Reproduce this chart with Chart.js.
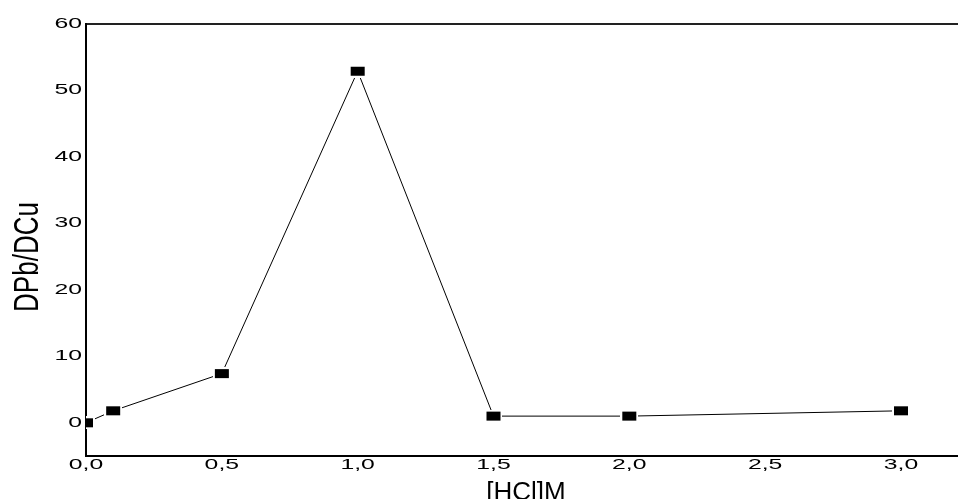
<!DOCTYPE html>
<html>
<head>
<meta charset="utf-8">
<script src="https://cdn.jsdelivr.net/npm/chart.js@4/dist/chart.umd.min.js"></script>
<style>
  html, body { margin: 0; padding: 0; background: #fff; overflow: hidden; }
  canvas { display: block; }
</style>
</head>
<body>
<canvas id="c" width="958" height="499"></canvas>
<script>
// HCl concentration (M) and the Pb/Cu distribution ratio measured at each one
const hclConc = [0, 0.1, 0.5, 1.0, 1.5, 2.0, 3.0];
const ratioPbCu = [0, 1.8, 7.4, 52.9, 1.0, 1.0, 1.8];

// Axis ticks and labels
const xTickValues = [0, 0.5, 1.0, 1.5, 2.0, 2.5, 3.0];
const xTickLabels = ['0,0', '0,5', '1,0', '1,5', '2,0', '2,5', '3,0'];
const yTickValues = [0, 10, 20, 30, 40, 50, 60];
const yTickLabels = ['0', '10', '20', '30', '40', '50', '60'];
const xTitle = '[HCl]M';
const yTitle = 'DPb/DCu';

// Filled rectangular marker with a thin white halo so the line stops short of it
function makeMarker() {
  const c = document.createElement('canvas');
  c.width = 18; c.height = 13;
  const g = c.getContext('2d');
  g.fillStyle = '#fff';
  g.fillRect(0, 0, 18, 13);
  g.fillStyle = '#000';
  g.fillRect(2, 2, 14, 9);
  return c;
}

// Text drawn with a horizontal stretch factor (wide tick lettering)
function drawStretched(ctx, text, x, y, sx, align, baseline) {
  ctx.save();
  ctx.translate(x, y);
  ctx.scale(sx, 1);
  ctx.textAlign = align;
  ctx.textBaseline = baseline;
  ctx.fillText(text, 0, 0);
  ctx.restore();
}

const labelPlugin = {
  id: 'axisLabels',
  afterDraw(chart) {
    const ctx = chart.ctx;
    const xs = chart.scales.x, ys = chart.scales.y;
    ctx.save();
    ctx.fillStyle = '#000';
    ctx.font = '15px "Liberation Sans", Arial, sans-serif';
    xTickValues.forEach((v, i) => {
      drawStretched(ctx, xTickLabels[i], xs.getPixelForValue(v), 469, 1.65, 'center', 'alphabetic');
    });
    yTickValues.forEach((v, i) => {
      drawStretched(ctx, yTickLabels[i], 82, ys.getPixelForValue(v) + 4, 1.65, 'right', 'alphabetic');
    });

    // x axis title
    ctx.font = '26px "Liberation Sans", Arial, sans-serif';
    ctx.textAlign = 'center';
    ctx.textBaseline = 'alphabetic';
    ctx.fillText(xTitle, 526, 500);

    // y axis title, rotated and widened across the stroke direction
    ctx.save();
    ctx.translate(38, 257);
    ctx.rotate(-Math.PI / 2);
    ctx.scale(1, 1.33);
    ctx.font = '26px "Liberation Sans", Arial, sans-serif';
    ctx.textAlign = 'center';
    ctx.textBaseline = 'alphabetic';
    ctx.fillText(yTitle, 0, 0);
    ctx.restore();
    ctx.restore();
  }
};

const points = hclConc.map((x, i) => ({ x: x, y: ratioPbCu[i] }));

new Chart(document.getElementById('c'), {
  type: 'line',
  data: {
    datasets: [{
      data: points,
      borderColor: '#000',
      borderWidth: 1,
      pointStyle: makeMarker(),
      pointRadius: 7,
      pointHoverRadius: 7,
      tension: 0,
      fill: false,
      clip: { left: 0, top: 10, right: 10, bottom: 10 }
    }]
  },
  options: {
    responsive: false,
    animation: false,
    events: [],
    layout: { autoPadding: false, padding: { left: 86, top: 24, right: 0, bottom: 43 } },
    plugins: { legend: { display: false }, tooltip: { enabled: false } },
    scales: {
      x: {
        type: 'linear',
        position: 'bottom',
        min: 0,
        max: 3.21,
        ticks: { display: false, stepSize: 0.25 },
        grid: { display: true, drawOnChartArea: false, drawTicks: false, tickLength: 0 },
        border: { display: true, color: '#000', width: 2 },
        z: 1
      },
      xTop: {
        type: 'linear',
        position: 'top',
        min: 0,
        max: 3.21,
        ticks: { display: false },
        grid: { display: true, drawOnChartArea: false, drawTicks: false, tickLength: 0 },
        border: { display: true, color: '#222', width: 2 },
        z: 1
      },
      y: {
        type: 'linear',
        position: 'left',
        min: -5,
        max: 60,
        ticks: { display: false, stepSize: 10 },
        grid: { display: true, drawOnChartArea: false, drawTicks: false, tickLength: 0 },
        border: { display: true, color: '#000', width: 2 },
        z: 1
      }
    }
  },
  plugins: [labelPlugin]
});
</script>
</body>
</html>
